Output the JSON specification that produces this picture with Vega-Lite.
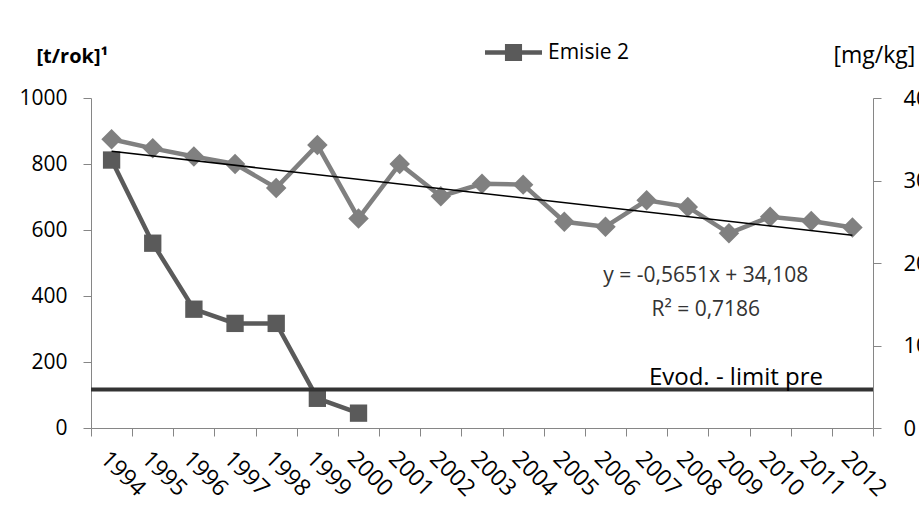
{
  "$schema": "https://vega.github.io/schema/vega-lite/v6.json",
  "width": 782,
  "height": 330,
  "autosize": "none",
  "padding": {"left": 91, "top": 98, "right": 46, "bottom": 88},
  "background": "white",
  "config": {
    "font": "Open Sans",
    "view": {"stroke": null},
    "axis": {
      "domainColor": "#868686",
      "tickColor": "#868686",
      "tickSize": 8,
      "labelColor": "#000000",
      "labelFontSize": 21,
      "labelFont": "Open Sans",
      "grid": false,
      "titleFont": "Open Sans",
      "titleColor": "#000000",
      "titleFontSize": 21
    }
  },
  "datasets": {
    "emisie": [
      {"year": "1994", "v": 812, "series": "Emisie 2"},
      {"year": "1995", "v": 560, "series": "Emisie 2"},
      {"year": "1996", "v": 360, "series": "Emisie 2"},
      {"year": "1997", "v": 317, "series": "Emisie 2"},
      {"year": "1998", "v": 317, "series": "Emisie 2"},
      {"year": "1999", "v": 90, "series": "Emisie 2"},
      {"year": "2000", "v": 45, "series": "Emisie 2"}
    ],
    "conc": [
      {"year": "1994", "c": 35.0},
      {"year": "1995", "c": 33.9},
      {"year": "1996", "c": 32.9},
      {"year": "1997", "c": 32.0},
      {"year": "1998", "c": 29.1},
      {"year": "1999", "c": 34.3},
      {"year": "2000", "c": 25.4},
      {"year": "2001", "c": 32.0},
      {"year": "2002", "c": 28.1},
      {"year": "2003", "c": 29.6},
      {"year": "2004", "c": 29.5},
      {"year": "2005", "c": 25.0},
      {"year": "2006", "c": 24.4},
      {"year": "2007", "c": 27.6},
      {"year": "2008", "c": 26.8},
      {"year": "2009", "c": 23.6},
      {"year": "2010", "c": 25.6},
      {"year": "2011", "c": 25.1},
      {"year": "2012", "c": 24.3}
    ],
    "trend": [
      {"year": "1994", "c": 33.543},
      {"year": "2012", "c": 23.371}
    ],
    "limit": [{"lim": 117, "label": "Evod. - limit pre", "year": "2009", "ty": 130}],
    "eq": [
      {"year": "2008", "c": 18.4, "t": "y = -0,5651x + 34,108"},
      {"year": "2008", "c": 14.3, "t": "R² = 0,7186"}
    ]
  },
  "layer": [
    {
      "layer": [
        {
          "data": {"name": "emisie"},
          "mark": {"type": "line", "color": "#5a5a5a", "strokeWidth": 4.5},
          "encoding": {
            "x": {
              "field": "year", "type": "ordinal",
              "scale": {"type": "band", "paddingInner": 0, "paddingOuter": 0,
                "domain": ["1994","1995","1996","1997","1998","1999","2000","2001","2002","2003","2004","2005","2006","2007","2008","2009","2010","2011","2012"]},
              "axis": {"title": null, "labelAngle": 45, "labelAlign": "left", "labelBaseline": "top", "tickBand": "extent", "labelPadding": 11, "labelFontSize": 23}
            },
            "y": {
              "field": "v", "type": "quantitative",
              "scale": {"domain": [0, 1000], "nice": false},
              "axis": {
                "orient": "left", "values": [0, 200, 400, 600, 800, 1000], "format": "d",
                "labelPadding": 16,
                "title": "[t/rok]¹", "titleAngle": 0, "titleAlign": "left", "titleBaseline": "alphabetic",
                "titleX": -55, "titleY": -36, "titleFontWeight": "bold", "titleFontSize": 20
              }
            }
          }
        },
        {
          "data": {"name": "emisie"},
          "mark": {"type": "point", "shape": "square", "filled": true, "size": 300, "opacity": 1},
          "encoding": {
            "x": {"field": "year", "type": "ordinal"},
            "y": {"field": "v", "type": "quantitative"},
            "color": {
              "field": "series", "type": "nominal",
              "scale": {"range": ["#5a5a5a"]},
              "legend": {
                "title": null, "orient": "none", "legendX": 394, "legendY": -74,
                "padding": 0,
                "symbolType": "M-1,-0.08L-0.3,-0.08L-0.3,-0.3L0.3,-0.3L0.3,-0.08L1,-0.08L1,0.08L0.3,0.08L0.3,0.3L-0.3,0.3L-0.3,0.08L-1,0.08Z",
                "symbolSize": 3249, "symbolStrokeWidth": 0, "symbolOpacity": 1,
                "labelFontSize": 21, "labelFont": "Open Sans", "labelColor": "#000000", "labelOffset": 6
              }
            }
          }
        },
        {
          "data": {"name": "limit"},
          "mark": {"type": "rule", "color": "#333333", "strokeWidth": 4},
          "encoding": {"y": {"field": "lim", "type": "quantitative"}}
        },
        {
          "data": {"name": "limit"},
          "mark": {"type": "text", "fontSize": 24, "color": "#000000", "align": "center", "baseline": "alphabetic", "dx": 7},
          "encoding": {
            "x": {"field": "year", "type": "ordinal"},
            "y": {"field": "ty", "type": "quantitative"},
            "text": {"field": "label"}
          }
        }
      ]
    },
    {
      "layer": [
        {
          "data": {"name": "conc"},
          "mark": {"type": "line", "color": "#808080", "strokeWidth": 4.5},
          "encoding": {
            "x": {"field": "year", "type": "ordinal"},
            "y": {
              "field": "c", "type": "quantitative",
              "scale": {"domain": [0, 40], "nice": false},
              "axis": {
                "orient": "right", "values": [0, 10, 20, 30, 40],
                "labelPadding": 22, "labelFontSize": 22,
                "title": "[mg/kg]", "titleAngle": 0, "titleAlign": "left", "titleBaseline": "alphabetic",
                "titleX": -40, "titleY": -36, "titleFontSize": 23, "titleFontWeight": "normal"
              }
            }
          }
        },
        {
          "data": {"name": "conc"},
          "mark": {"type": "point", "shape": "diamond", "filled": true, "size": 420, "color": "#808080", "opacity": 1},
          "encoding": {
            "x": {"field": "year", "type": "ordinal"},
            "y": {"field": "c", "type": "quantitative"}
          }
        },
        {
          "data": {"name": "trend"},
          "mark": {"type": "line", "color": "#000000", "strokeWidth": 1.5},
          "encoding": {
            "x": {"field": "year", "type": "ordinal"},
            "y": {"field": "c", "type": "quantitative"}
          }
        },
        {
          "data": {"name": "eq"},
          "mark": {"type": "text", "fontSize": 21, "color": "#333333", "align": "center", "baseline": "middle", "dx": 18},
          "encoding": {
            "x": {"field": "year", "type": "ordinal"},
            "y": {"field": "c", "type": "quantitative"},
            "text": {"field": "t"}
          }
        }
      ]
    }
  ],
  "resolve": {"scale": {"y": "independent"}}
}
